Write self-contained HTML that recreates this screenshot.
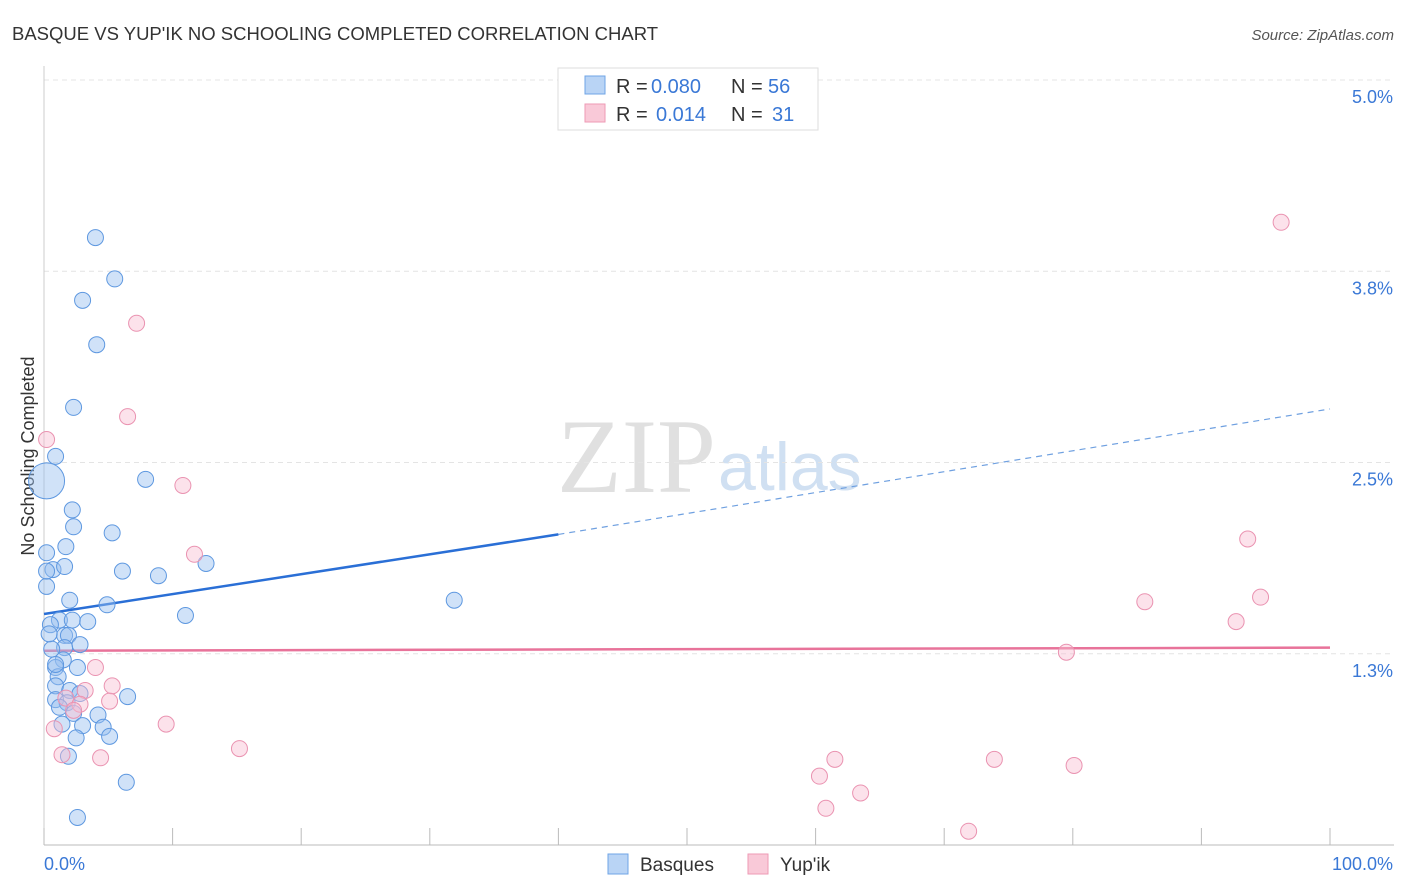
<!DOCTYPE html>
<html><head><meta charset="utf-8">
<style>
body{margin:0;background:#fff;font-family:"Liberation Sans",sans-serif;}
svg{display:block}
</style></head>
<body>
<svg id="chart" width="1406" height="892">
<text x="12" y="40" font-size="18.5" fill="#333">BASQUE VS YUP'IK NO SCHOOLING COMPLETED CORRELATION CHART</text>
<text x="1394" y="40" font-size="15" fill="#555" font-style="italic" text-anchor="end">Source: ZipAtlas.com</text>
<text x="716" y="492" font-size="106" fill="#e0e0e0" text-anchor="end" font-family="Liberation Serif">ZIP</text>
<text x="718" y="490" font-size="68" fill="#d0e0f2">atlas</text>
<text transform="translate(34,456) rotate(-90)" font-size="18" fill="#333" text-anchor="middle">No Schooling Completed</text>
<g id="grid"></g><g id="axes"></g><g id="trend"></g><g id="pts"></g>
<g>
<rect x="558" y="68" width="260" height="62" fill="#fff" stroke="#ddd"/>
<rect x="585" y="76" width="20" height="18" fill="#b9d4f5" stroke="#6fa4e6"/>
<rect x="585" y="104" width="20" height="18" fill="#f9c9d8" stroke="#ee9ab5"/>
<text x="616" y="93" font-size="20" fill="#333">R =</text>
<text x="651" y="93" font-size="20" fill="#3a78d6">0.080</text>
<text x="731" y="93" font-size="20" fill="#333">N =</text>
<text x="768" y="93" font-size="20" fill="#3a78d6">56</text>
<text x="616" y="121" font-size="20" fill="#333">R =</text>
<text x="656" y="121" font-size="20" fill="#3a78d6">0.014</text>
<text x="731" y="121" font-size="20" fill="#333">N =</text>
<text x="772" y="121" font-size="20" fill="#3a78d6">31</text>
</g>
<g>
<rect x="608" y="854" width="20" height="20" fill="#b9d4f5" stroke="#6fa4e6"/>
<text x="640" y="871" font-size="19" fill="#333">Basques</text>
<rect x="748" y="854" width="20" height="20" fill="#f9c9d8" stroke="#ee9ab5"/>
<text x="780" y="871" font-size="19" fill="#333">Yup'ik</text>
</g>
</svg>
<script>
const yTicks=[1.25,2.5,3.75,5.0];
const yTickLabels=["1.3%","2.5%","3.8%","5.0%"];
const xTickLabels=["0.0%","100.0%"];
const basqueX=[4.0,5.5,3.0,4.1,2.3,0.9,0.2,7.9,2.2,2.3,5.3,1.7,0.2,0.7,1.6,6.1,8.9,12.6,0.2,2.0,4.9,31.9,11.0,1.2,2.2,3.4,0.5,1.6,1.9,2.8,1.6,0.6,1.5,2.6,0.9,1.1,0.9,2.0,2.8,6.5,0.9,1.8,1.2,2.3,4.2,1.4,3.0,4.6,2.5,5.1,1.9,6.4,2.6,0.2,0.4,0.9];
const basqueY=[3.97,3.70,3.56,3.27,2.86,2.54,2.38,2.39,2.19,2.08,2.04,1.95,1.91,1.80,1.82,1.79,1.76,1.84,1.69,1.60,1.57,1.60,1.50,1.47,1.47,1.46,1.44,1.37,1.37,1.31,1.29,1.28,1.21,1.16,1.16,1.10,1.04,1.01,0.99,0.97,0.95,0.93,0.90,0.86,0.85,0.79,0.78,0.77,0.70,0.71,0.58,0.41,0.18,1.79,1.38,1.18];
const basqueR=basqueX.map((_,i)=>i==6?18:8);
const yupikX=[96.2,7.2,6.5,0.2,10.8,11.7,93.6,85.6,94.6,92.7,79.5,4.0,5.3,3.2,1.7,5.1,2.8,2.3,9.5,0.8,15.2,1.4,4.4,61.5,73.9,80.1,60.3,63.5,60.8,71.9];
const yupikY=[4.07,3.41,2.80,2.65,2.35,1.90,2.00,1.59,1.62,1.46,1.26,1.16,1.04,1.01,0.96,0.94,0.92,0.88,0.79,0.76,0.63,0.59,0.57,0.56,0.56,0.52,0.45,0.34,0.24,0.09];
const basqueTrend=[1.51,2.03,2.85]; const trendXs=[0,40,100];
const yupikTrend=[1.27,1.29];
const X=v=>44+v*12.86, Y=v=>845-v*153;
const NS="http://www.w3.org/2000/svg";
function mk(p,t,a){const e=document.createElementNS(NS,t);for(const k in a)e.setAttribute(k,a[k]);document.getElementById(p).appendChild(e);return e;}
yTicks.forEach((t,i)=>{
 const l=mk('grid','line',{x1:44,x2:1394,y1:Y(t),y2:Y(t),stroke:'#e4e4e4','stroke-dasharray':'5,4'});
 
 
 const tx=mk('grid','text',{x:1393,y:Y(t)+23,'font-size':18,fill:'#3a78d6','text-anchor':'end'});tx.textContent=yTickLabels[i];
 
 
});
const ax=mk('axes','line',{x1:44,x2:1394,y1:845,y2:845,stroke:'#bbb'});


const ay=mk('axes','line',{x1:44,x2:44,y1:66,y2:845,stroke:'#ccc'});


for(let i=0;i<=10;i++){const t=mk('axes','line',{x1:X(i*10),x2:X(i*10),y1:828,y2:845,stroke:'#bbb'});
 
 }
let t0=mk('axes','text',{x:44,y:870,'font-size':18,fill:'#3a78d6'});t0.textContent=xTickLabels[0];


let t1=mk('axes','text',{x:1393,y:870,'font-size':18,fill:'#3a78d6','text-anchor':'end'});t1.textContent=xTickLabels[1];


const bs=mk('trend','line',{x1:X(trendXs[0]),y1:Y(basqueTrend[0]),x2:X(trendXs[1]),y2:Y(basqueTrend[1]),stroke:'#2a6fd6','stroke-width':2.5});


const bd=mk('trend','line',{x1:X(trendXs[1]),y1:Y(basqueTrend[1]),x2:X(trendXs[2]),y2:Y(basqueTrend[2]),stroke:'#6fa0e0','stroke-width':1.2,'stroke-dasharray':'6,5'});


const yl=mk('trend','line',{x1:X(0),y1:Y(yupikTrend[0]),x2:X(100),y2:Y(yupikTrend[1]),stroke:'#e8739a','stroke-width':2.5});


basqueX.forEach((x,i)=>{const c=mk('pts','circle',{cx:X(x),cy:Y(basqueY[i]),r:basqueR[i],fill:'rgba(150,190,240,0.45)',stroke:'#5e98e0','stroke-width':1});
 
 });
yupikX.forEach((x,i)=>{const c=mk('pts','circle',{cx:X(x),cy:Y(yupikY[i]),r:8,fill:'rgba(248,190,210,0.45)',stroke:'#ea93b1','stroke-width':1});
 
 });
</script>
</body></html>
